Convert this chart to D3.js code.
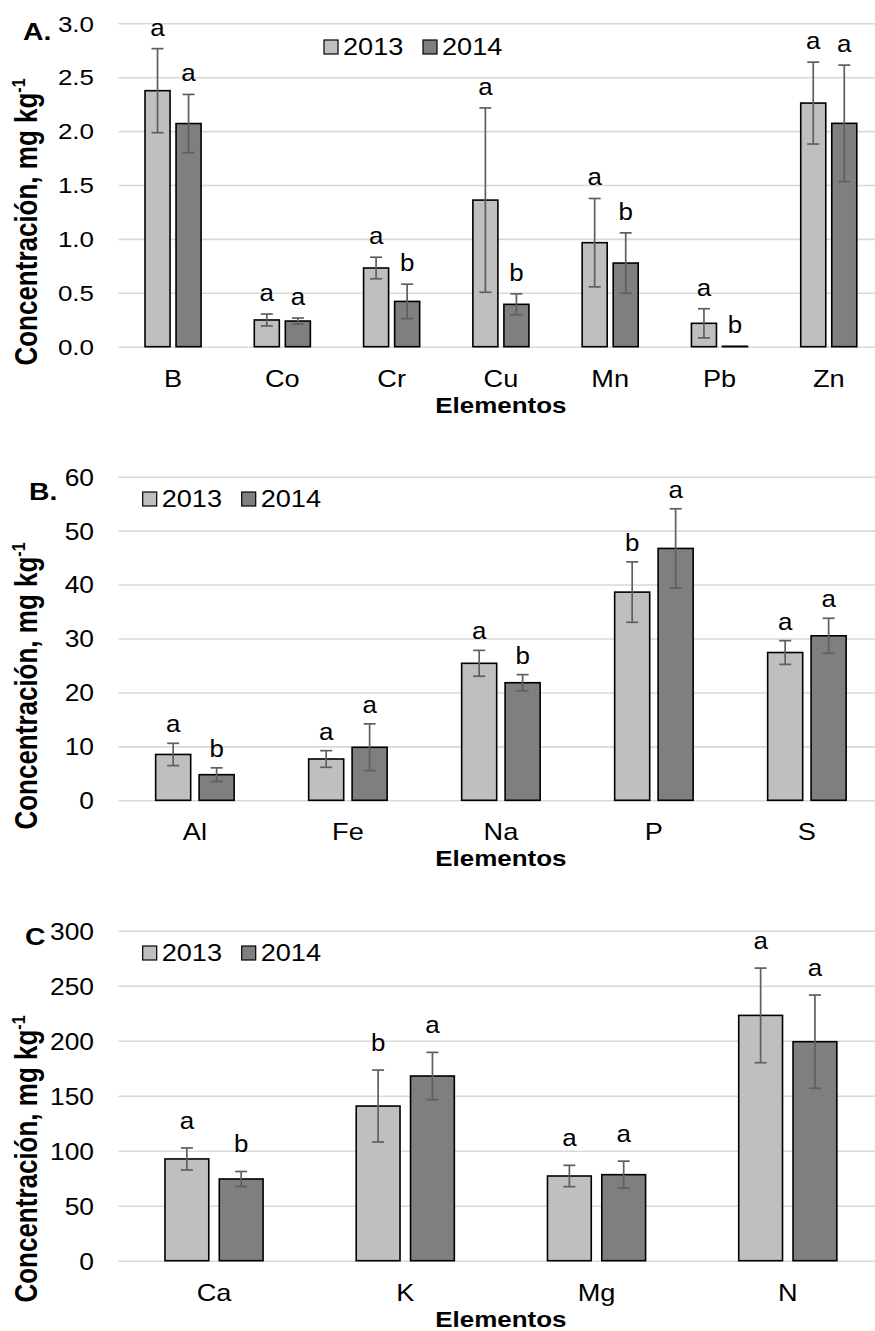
<!DOCTYPE html>
<html>
<head>
<meta charset="utf-8">
<script src="https://cdn.jsdelivr.net/npm/d3@7"></script>
<style>
  body { margin: 0; background: #fff; }
  svg { display: block; }
</style>
</head>
<body>
<svg id="chart" width="875" height="1331"></svg>
<script>
// ---- Data ----
const years = ["2013", "2014"];

// Panel A: trace elements
const catsA = ["B", "Co", "Cr", "Cu", "Mn", "Pb", "Zn"];
const valsA2013 = [2.375, 0.248, 0.73, 1.36, 0.965, 0.217, 2.26];
const errA2013  = [0.39, 0.055, 0.10, 0.855, 0.41, 0.135, 0.38];
const valsA2014 = [2.07, 0.238, 0.42, 0.393, 0.776, 0.004, 2.072];
const errA2014  = [0.27, 0.028, 0.16, 0.097, 0.28, 0, 0.54];
const letA2013  = ["a", "a", "a", "a", "a", "a", "a"];
const letA2014  = ["a", "a", "b", "b", "b", "b", "a"];
const ticksA    = [0, 0.5, 1.0, 1.5, 2.0, 2.5, 3.0];

// Panel B
const catsB = ["Al", "Fe", "Na", "P", "S"];
const valsB2013 = [8.5, 7.66, 25.4, 38.6, 27.4];
const errB2013  = [2.07, 1.54, 2.4, 5.6, 2.2];
const valsB2014 = [4.75, 9.83, 21.8, 46.7, 30.5];
const errB2014  = [1.27, 4.34, 1.5, 7.35, 3.25];
const letB2013  = ["a", "a", "a", "b", "a"];
const letB2014  = ["b", "a", "b", "a", "a"];
const ticksB    = [0, 10, 20, 30, 40, 50, 60];

// Panel C
const catsC = ["Ca", "K", "Mg", "N"];
const valsC2013 = [92.5, 140.6, 77, 223];
const errC2013  = [10, 32.7, 9.7, 43];
const valsC2014 = [74.3, 167.9, 78.2, 199.1];
const errC2014  = [6.8, 21.5, 12.3, 42.4];
const letC2013  = ["a", "b", "a", "a"];
const letC2014  = ["b", "a", "a", "a"];
const ticksC    = [0, 50, 100, 150, 200, 250, 300];

// ---- Style ----
const FONT = "'Liberation Sans', Arial, Helvetica, sans-serif";
const SX = 1.18;               // horizontal text stretch
const LIGHT = "#bfbfbf", DARK = "#7f7f7f", ERR = "#5f5f5f", GRID = "#d9d9d9";
const LEFT = 118.4, RIGHT = 883.4;

const svg = d3.select("#chart");
svg.append("rect").attr("width", 875).attr("height", 1331).attr("fill", "#fff");

function label(g, x, y, s, size, opts = {}) {
  const sx = opts.sx || SX;
  return g.append("text")
    .attr("transform", `translate(${x},${y}) scale(${sx},1)${opts.rotate ? " rotate(-90)" : ""}`)
    .attr("font-family", FONT)
    .attr("font-size", size)
    .attr("font-weight", opts.bold ? "bold" : "normal")
    .attr("text-anchor", opts.anchor || "start")
    .attr("fill", "#000")
    .text(s);
}

function panel(cfg) {
  const g = svg.append("g");
  const x0 = d3.scaleBand().domain(cfg.cats).range([LEFT, RIGHT]);
  const B = x0.bandwidth();
  const x1 = d3.scaleBand().domain(years).range([B * 0.2435, B * 0.7565]).paddingInner(0.1937);
  const y = d3.scaleLinear().domain([0, d3.max(cfg.ticks)]).range([cfg.zero, cfg.top]);

  // gridlines and value labels
  const ax = d3.axisLeft(y).tickValues(cfg.ticks).tickSize(-(RIGHT - LEFT)).tickPadding(0).tickFormat(cfg.fmt);
  const ag = g.append("g").attr("transform", `translate(${LEFT},0)`).call(ax);
  ag.select(".domain").remove();
  ag.selectAll(".tick line").attr("stroke", GRID).attr("stroke-width", 1.6);
  ag.selectAll(".tick text")
    .attr("x", null).attr("dy", "0.35em")
    .attr("transform", `translate(-24.4,0) scale(${cfg.tickSX},1)`)
    .attr("font-family", FONT).attr("font-size", cfg.tickSize).attr("fill", "#000");

  // category labels
  const bx = d3.axisBottom(x0).tickSize(0);
  const bg = g.append("g").attr("transform", `translate(0,${cfg.zero})`).call(bx);
  bg.select(".domain").remove();
  bg.selectAll(".tick text")
    .attr("x", 0).attr("y", 40).attr("dy", null)
    .attr("transform", `scale(${SX},1)`)
    .attr("font-family", FONT).attr("font-size", 23).attr("fill", "#000");

  const rows = cfg.cats.map((c, i) => ({
    cat: c,
    items: [
      { yr: "2013", v: cfg.v13[i], e: cfg.e13[i], l: cfg.l13[i], fill: LIGHT },
      { yr: "2014", v: cfg.v14[i], e: cfg.e14[i], l: cfg.l14[i], fill: DARK }
    ]
  }));

  const grp = g.selectAll(".grp").data(rows).join("g")
    .attr("class", "grp")
    .attr("transform", d => `translate(${x0(d.cat)},0)`);

  const item = grp.selectAll(".item").data(d => d.items).join("g").attr("class", "item");

  item.append("rect")
    .attr("x", d => x1(d.yr))
    .attr("y", d => y(d.v))
    .attr("width", x1.bandwidth())
    .attr("height", d => cfg.zero - y(d.v))
    .attr("fill", d => d.fill)
    .attr("stroke", "#000")
    .attr("stroke-width", 1.6);

  const cx = d => x1(d.yr) + x1.bandwidth() / 2;
  const errs = item.filter(d => d.e > 0);
  errs.append("line")
    .attr("x1", cx).attr("x2", cx)
    .attr("y1", d => y(d.v - d.e)).attr("y2", d => y(d.v + d.e))
    .attr("stroke", ERR).attr("stroke-width", 1.7);
  errs.append("line")
    .attr("x1", d => cx(d) - 6).attr("x2", d => cx(d) + 6)
    .attr("y1", d => y(d.v + d.e)).attr("y2", d => y(d.v + d.e))
    .attr("stroke", ERR).attr("stroke-width", 1.7);
  errs.append("line")
    .attr("x1", d => cx(d) - 6).attr("x2", d => cx(d) + 6)
    .attr("y1", d => y(d.v - d.e)).attr("y2", d => y(d.v - d.e))
    .attr("stroke", ERR).attr("stroke-width", 1.7);

  // significance letters
  item.each(function (d) {
    label(d3.select(this), cx(d), y(d.v + d.e) - cfg.gap, d.l, 24, { anchor: "middle", sx: 1.08 });
  });

  // axis titles
  label(g, (LEFT + RIGHT) / 2, cfg.zero + 66, "Elementos", 22, { anchor: "middle", bold: true });
  const t = label(g, 37, cfg.titleY, "Concentración, mg kg", 26, { anchor: "middle", bold: true, rotate: true });
  t.append("tspan").attr("dy", -10).attr("font-size", 16).text("-1");

  // panel tag
  label(g, cfg.tagX, cfg.tagY, cfg.tag, 24, { bold: true });

  // legend
  const lg = g.append("g");
  years.forEach((yr, i) => {
    const lx = cfg.legX + i * 99;
    lg.append("rect").attr("x", lx).attr("y", cfg.legY).attr("width", 14).attr("height", 14)
      .attr("fill", i === 0 ? LIGHT : DARK).attr("stroke", "#000").attr("stroke-width", 1.2);
    label(lg, lx + 19, cfg.legY + 15, yr, 23);
  });
}

panel({
  cats: catsA, v13: valsA2013, e13: errA2013, v14: valsA2014, e14: errA2014,
  l13: letA2013, l14: letA2014, ticks: ticksA, fmt: d3.format(".1f"),
  tickSize: 22, tickSX: 1.18,
  top: 23.3, zero: 346.7, gap: 13, titleY: 222,
  tag: "A.", tagX: 23, tagY: 40, legX: 324, legY: 40
});
panel({
  cats: catsB, v13: valsB2013, e13: errB2013, v14: valsB2014, e14: errB2014,
  l13: letB2013, l14: letB2014, ticks: ticksB, fmt: d3.format("d"),
  tickSize: 24, tickSX: 1.1,
  top: 476.7, zero: 800.3, gap: 11, titleY: 686,
  tag: "B.", tagX: 29, tagY: 500, legX: 142.7, legY: 492
});
panel({
  cats: catsC, v13: valsC2013, e13: errC2013, v14: valsC2014, e14: errC2014,
  l13: letC2013, l14: letC2014, ticks: ticksC, fmt: d3.format("d"),
  tickSize: 24, tickSX: 1.1,
  top: 930.7, zero: 1260.7, gap: 19, titleY: 1159,
  tag: "C", tagX: 25, tagY: 945, legX: 142.7, legY: 946
});
</script>
</body>
</html>
